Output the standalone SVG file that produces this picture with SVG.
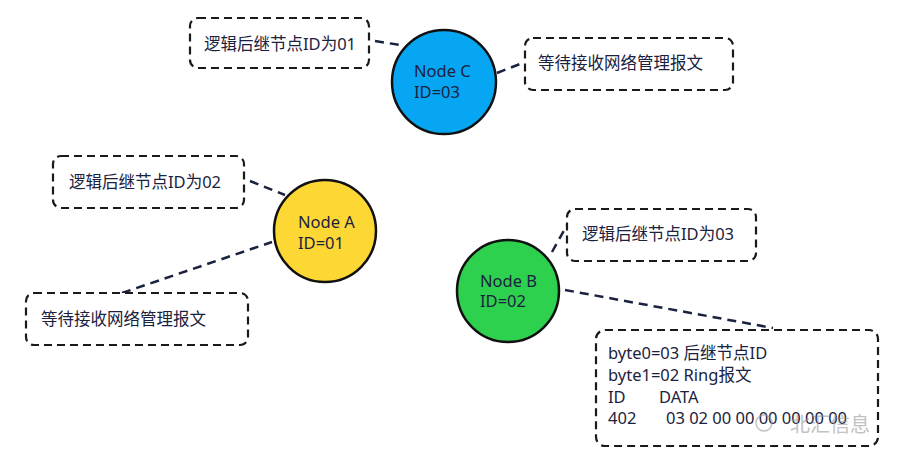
<svg xmlns="http://www.w3.org/2000/svg" width="904" height="466" viewBox="0 0 904 466">
<style>
.box{fill:#fff;stroke:#1a1a1a;stroke-width:2.2;stroke-dasharray:8 5}
.node{stroke:#111;stroke-width:2.5}
.t{font-family:"Noto Sans","Noto Sans CJK SC",sans-serif;font-size:16.5px;fill:#1b2240}
.c{stroke:#1b2240;stroke-width:2.5;stroke-dasharray:9 6;fill:none}
.wm{font-family:"Noto Sans CJK SC",sans-serif;font-size:20px;fill:#9a9a9a;opacity:0.6}
</style>
<rect width="904" height="466" fill="#fff"/>
<g id="connectors">
<line class="c" x1="375" y1="41" x2="400" y2="45"/>
<line class="c" x1="497" y1="73" x2="525" y2="62"/>
<line class="c" x1="250" y1="181" x2="285" y2="195"/>
<line class="c" x1="122" y1="293" x2="272" y2="242"/>
<line class="c" x1="552" y1="252" x2="567" y2="225"/>
<line class="c" x1="565" y1="290" x2="773" y2="328"/>
</g>
<g id="nodeC">
<circle class="node" cx="444" cy="82" r="52" fill="#07A6F2"/>
<text class="t" x="414" y="77">Node C</text>
<text class="t" x="414" y="98">ID=03</text>
</g>
<g id="nodeA">
<circle class="node" cx="325" cy="231" r="51" fill="#FDD835"/>
<text class="t" x="298" y="228">Node A</text>
<text class="t" x="298" y="249">ID=01</text>
</g>
<g id="nodeB">
<circle class="node" cx="508" cy="291" r="51" fill="#2DD14E"/>
<text class="t" x="480" y="287">Node B</text>
<text class="t" x="480" y="307">ID=02</text>
</g>
<g id="noteC1">
<rect class="box" x="190" y="18" width="179" height="50" rx="8"/>
<text class="t" x="204" y="50">逻辑后继节点ID为01</text>
</g>
<g id="noteC2">
<rect class="box" x="525" y="38" width="208" height="52" rx="8"/>
<text class="t" x="538" y="69">等待接收网络管理报文</text>
</g>
<g id="noteA1">
<rect class="box" x="53" y="156" width="191" height="52" rx="8"/>
<text class="t" x="69" y="188">逻辑后继节点ID为02</text>
</g>
<g id="noteA2">
<rect class="box" x="26" y="293" width="222" height="52" rx="8"/>
<text class="t" x="41" y="325">等待接收网络管理报文</text>
</g>
<g id="noteB1">
<rect class="box" x="567" y="209" width="189" height="52" rx="8"/>
<text class="t" x="582" y="240">逻辑后继节点ID为03</text>
</g>
<g id="noteB2">
<rect class="box" x="596" y="330" width="282" height="116" rx="9"/>
<text class="t" x="608" y="359">byte0=03 后继节点ID</text>
<text class="t" x="608" y="381">byte1=02 Ring报文</text>
<text class="t" x="608" y="403">ID</text>
<text class="t" x="659" y="403">DATA</text>
<text class="t" x="608" y="424">402</text>
<text class="t" x="666" y="424">03 02 00 00 00 00 00 00</text>
</g>
<g id="watermark">
<circle cx="764" cy="423" r="8" fill="none" stroke="#9a9a9a" stroke-width="1.5" opacity="0.6"/>
<text class="wm" x="790" y="432">北汇信息</text>
</g>
</svg>
